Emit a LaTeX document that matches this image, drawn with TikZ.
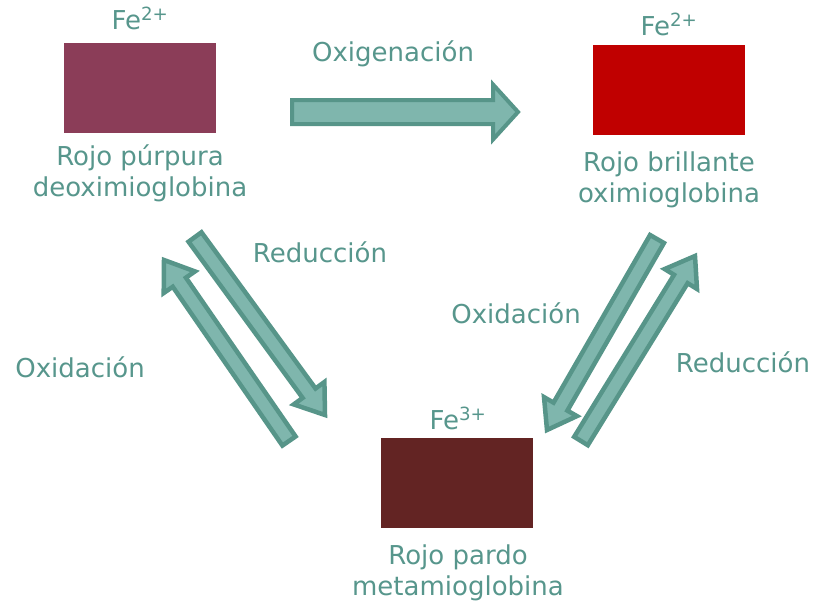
\documentclass[tikz,border=0pt]{standalone}
\usepackage{fontspec}
\setmainfont{DejaVu Sans}
\usetikzlibrary{calc}
\definecolor{txt}{HTML}{57968C}
\definecolor{afill}{HTML}{7FB6AD}
\definecolor{aline}{HTML}{579589}
\definecolor{purp}{HTML}{8B3D58}
\definecolor{brightred}{HTML}{C00000}
\definecolor{pardo}{HTML}{632423}
\tikzset{
  lbl/.style={text=txt, font=\fontsize{26}{31}\selectfont, inner sep=0pt, align=center},
  colbox/.style={draw=none, minimum width=152pt, minimum height=90pt, inner sep=0pt},
  arrowbox/.style={fill=afill, draw=aline, line join=miter},
}
\newcommand\blockarrow[6]{%
  \coordinate (bh) at ($(#2)!#5!(#1)$);
  \draw[arrowbox, line width=#6] ($(#1)!#3!90:(#2)$) -- ($(bh)!#3!90:(#2)$) -- ($(bh)!#4!90:(#2)$) -- (#2)
    -- ($(bh)!#4!-90:(#2)$) -- ($(bh)!#3!-90:(#2)$) -- ($(#1)!#3!-90:(#2)$) -- cycle;}
\begin{document}
\begin{tikzpicture}[x=1pt,y=-1pt]
\useasboundingbox (0,0) rectangle (819,603);
% colour boxes
\node[colbox, fill=purp] (deoxy) at (140,88) {};
\node[colbox, fill=brightred] (oxy) at (669,90) {};
\node[colbox, fill=pardo] (meta) at (457,483) {};
% iron labels
\node[lbl] (fe1) at (140,18) {Fe\textsuperscript{2+}};
\node[lbl] (fe2) at (669,24) {Fe\textsuperscript{2+}};
\node[lbl] (fe3) at (458,418) {Fe\textsuperscript{3+}};
% names
\node[lbl] (n1) at (140,173) {Rojo púrpura\\deoximioglobina};
\node[lbl] (n2) at (669,180) {Rojo brillante\\oximioglobina};
\node[lbl] (n3) at (458,573) {Rojo pardo\\metamioglobina};
% arrow labels
\node[lbl] (l1) at (393,54) {Oxigenación};
\node[lbl] (l2) at (320,252) {Reducción};
\node[lbl] (l3) at (80,367) {Oxidación};
\node[lbl] (l4) at (516,313) {Oxidación};
\node[lbl] (l5) at (743,362) {Reducción};
% arrow end points
\coordinate (h1) at (292,112);  \coordinate (h2) at (518,112);
\coordinate (a1) at (195,237);  \coordinate (a2) at (325,415);
\coordinate (b1) at (289,441);  \coordinate (b2) at (164,260);
\coordinate (c1) at (657,239);  \coordinate (c2) at (547,430);
\coordinate (d1) at (581,441);  \coordinate (d2) at (695,256);
\blockarrow{h1}{h2}{12pt}{27.5pt}{25pt}{4pt}
\blockarrow{a1}{a2}{8pt}{19pt}{27pt}{4.5pt}
\blockarrow{b1}{b2}{8pt}{19pt}{27pt}{4.5pt}
\blockarrow{c1}{c2}{8pt}{19pt}{27pt}{4.5pt}
\blockarrow{d1}{d2}{8pt}{19pt}{27pt}{4.5pt}
\end{tikzpicture}
\end{document}
